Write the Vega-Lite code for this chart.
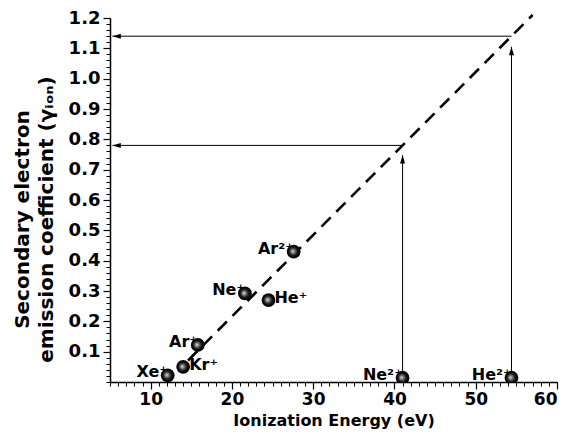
{
  "$schema": "https://vega.github.io/schema/vega-lite/v6.json",
  "autosize": {"type": "none"},
  "padding": {"left": 110, "top": 18, "right": 11, "bottom": 65},
  "width": 447,
  "height": 364,
  "background": "white",
  "config": {"view": {"stroke": null}, "font": "DejaVu Sans"},
  "datasets": {
    "ions": [
      {"ion": "Xe⁺", "energy": 12.1, "gamma": 0.022},
      {"ion": "Kr⁺", "energy": 14.0, "gamma": 0.05},
      {"ion": "Ar⁺", "energy": 15.8, "gamma": 0.122},
      {"ion": "Ne⁺", "energy": 21.6, "gamma": 0.292},
      {"ion": "He⁺", "energy": 24.5, "gamma": 0.27},
      {"ion": "Ar²⁺", "energy": 27.6, "gamma": 0.43},
      {"ion": "Ne²⁺", "energy": 41.0, "gamma": 0.014},
      {"ion": "He²⁺", "energy": 54.4, "gamma": 0.014}
    ],
    "segments": [
      {"x1": 54.4, "y1": 1.14, "x2": 5.3, "y2": 1.14},
      {"x1": 41.0, "y1": 0.78, "x2": 5.3, "y2": 0.78},
      {"x1": 54.4, "y1": 0, "x2": 54.4, "y2": 1.105},
      {"x1": 41.0, "y1": 0, "x2": 41.0, "y2": 0.748}
    ],
    "fit": [
      {"x1": 14.6, "y1": 0.071, "x2": 57.0, "y2": 1.21}
    ]
  },
  "layer": [
    {
      "data": {"name": "segments"},
      "mark": {"type": "rule", "color": "black", "strokeWidth": 1, "clip": false},
      "encoding": {
        "x": {"field": "x1", "type": "quantitative", "scale": {"domain": [5, 60], "nice": false, "zero": false},
          "axis": {"orient": "bottom", "values": [5,6,7,8,9,10,11,12,13,14,15,16,17,18,19,20,21,22,23,24,25,26,27,28,29,30,31,32,33,34,35,36,37,38,39,40,41,42,43,44,45,46,47,48,49,50,51,52,53,54,55,56,57,58,59,60],
            "labels": false, "domain": false, "grid": false, "tickSize": 4, "tickColor": "black", "tickWidth": 1, "title": null}},
        "y": {"field": "y1", "type": "quantitative", "scale": {"domain": [0, 1.2], "nice": false, "zero": false},
          "axis": {"orient": "left", "values": [0,0.02,0.04,0.06,0.08,0.1,0.12,0.14,0.16,0.18,0.2,0.22,0.24,0.26,0.28,0.3,0.32,0.34,0.36,0.38,0.4,0.42,0.44,0.46,0.48,0.5,0.52,0.54,0.56,0.58,0.6,0.62,0.64,0.66,0.68,0.7,0.72,0.74,0.76,0.78,0.8,0.82,0.84,0.86,0.88,0.9,0.92,0.94,0.96,0.98,1,1.02,1.04,1.06,1.08,1.1,1.12,1.14,1.16,1.18,1.2],
            "labels": false, "domain": false, "grid": false, "tickSize": 4, "tickColor": "black", "tickWidth": 1, "title": null}},
        "x2": {"field": "x2"},
        "y2": {"field": "y2"}
      }
    },
    {
      "data": {"name": "segments"},
      "transform": [{"filter": "datum.y1 == datum.y2"}],
      "mark": {"type": "point", "shape": "M0,0L2,-0.6L2,0.6Z", "filled": true, "color": "black", "size": 70, "opacity": 1, "clip": false},
      "encoding": {
        "x": {"field": "x2", "type": "quantitative", "scale": {"domain": [5, 60], "nice": false, "zero": false}, "axis": null},
        "y": {"field": "y2", "type": "quantitative", "scale": {"domain": [0, 1.2], "nice": false, "zero": false}, "axis": null}
      }
    },
    {
      "data": {"name": "segments"},
      "transform": [{"filter": "datum.x1 == datum.x2"}],
      "mark": {"type": "point", "shape": "M0,0L-0.6,2L0.6,2Z", "filled": true, "color": "black", "size": 70, "opacity": 1, "clip": false},
      "encoding": {
        "x": {"field": "x2", "type": "quantitative", "scale": {"domain": [5, 60], "nice": false, "zero": false}, "axis": null},
        "y": {"field": "y2", "type": "quantitative", "scale": {"domain": [0, 1.2], "nice": false, "zero": false}, "axis": null}
      }
    },
    {
      "data": {"name": "fit"},
      "mark": {"type": "rule", "color": "black", "strokeWidth": 2.6, "strokeDash": [13, 8], "clip": false},
      "encoding": {
        "x": {"field": "x1", "type": "quantitative", "scale": {"domain": [5, 60], "nice": false, "zero": false}, "axis": null},
        "y": {"field": "y1", "type": "quantitative", "scale": {"domain": [0, 1.2], "nice": false, "zero": false}, "axis": null},
        "x2": {"field": "x2"},
        "y2": {"field": "y2"}
      }
    },
    {
      "data": {"name": "ions"},
      "transform": [{"filter": {"field": "ion", "oneOf": ["Xe⁺", "Ar⁺", "Ne⁺", "Ar²⁺", "Ne²⁺", "He²⁺"]}}],
      "mark": {"type": "text", "align": "right", "baseline": "middle", "dx": 0, "dy": -3, "font": "DejaVu Sans", "fontWeight": "bold", "fontSize": 16, "color": "black"},
      "encoding": {
        "x": {"field": "energy", "type": "quantitative", "scale": {"domain": [5, 60], "nice": false, "zero": false}, "axis": null},
        "y": {"field": "gamma", "type": "quantitative", "scale": {"domain": [0, 1.2], "nice": false, "zero": false}, "axis": null},
        "text": {"field": "ion"}
      }
    },
    {
      "data": {"name": "ions"},
      "transform": [{"filter": {"field": "ion", "oneOf": ["Kr⁺", "He⁺"]}}],
      "mark": {"type": "text", "align": "left", "baseline": "middle", "dx": 6, "dy": -2, "font": "DejaVu Sans", "fontWeight": "bold", "fontSize": 16, "color": "black"},
      "encoding": {
        "x": {"field": "energy", "type": "quantitative", "scale": {"domain": [5, 60], "nice": false, "zero": false}, "axis": null},
        "y": {"field": "gamma", "type": "quantitative", "scale": {"domain": [0, 1.2], "nice": false, "zero": false}, "axis": null},
        "text": {"field": "ion"}
      }
    },
    {
      "data": {"name": "ions"},
      "mark": {"type": "point", "shape": "circle", "filled": true, "size": 190, "opacity": 1, "strokeWidth": 0, "clip": true,
        "fill": {"gradient": "radial", "x1": 0.42, "y1": 0.48, "r1": 0, "x2": 0.5, "y2": 0.5, "r2": 0.5,
          "stops": [{"offset": 0, "color": "#e6e6e6"}, {"offset": 0.28, "color": "#7a7a7a"}, {"offset": 0.6, "color": "#151515"}, {"offset": 1, "color": "#000000"}]}},
      "encoding": {
        "x": {"field": "energy", "type": "quantitative", "scale": {"domain": [5, 60], "nice": false, "zero": false},
          "axis": {"orient": "bottom", "values": [10, 20, 30, 40, 50, 60], "grid": false, "tickSize": 7, "tickWidth": 1.2, "tickColor": "black",
            "domainColor": "black", "domainWidth": 1.5, "labelFont": "DejaVu Sans", "labelFontWeight": "bold", "labelFontSize": 17, "labelColor": "black", "labelPadding": 2,
            "title": "Ionization Energy (eV)", "titleFont": "DejaVu Sans", "titleFontWeight": "bold", "titleFontSize": 16, "titleColor": "black", "titlePadding": 5}},
        "y": {"field": "gamma", "type": "quantitative", "scale": {"domain": [0, 1.2], "nice": false, "zero": false},
          "axis": {"orient": "left", "values": [0.1,0.2,0.3,0.4,0.5,0.6,0.7,0.8,0.9,1.0,1.1,1.2], "format": ".1f", "grid": false, "tickSize": 7, "tickWidth": 1.2, "tickColor": "black",
            "domainColor": "black", "domainWidth": 1.5, "labelFont": "DejaVu Sans", "labelFontWeight": "bold", "labelFontSize": 18, "labelColor": "black", "labelPadding": 3,
            "title": ["Secondary electron", "emission coefficient (γᵢₒₙ)"], "titleFont": "DejaVu Sans", "titleFontWeight": "bold", "titleFontSize": 20, "titleLineHeight": 24, "titleColor": "black", "titleX": -78, "titleY": 201}}
      }
    }
  ],
  "resolve": {"axis": {"x": "independent", "y": "independent"}}
}
